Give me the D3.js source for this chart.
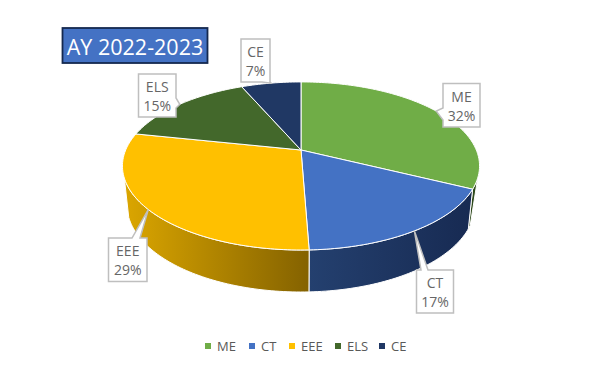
<!DOCTYPE html>
<html>
<head>
<meta charset="utf-8">
<script src="https://cdnjs.cloudflare.com/ajax/libs/d3/7.8.5/d3.min.js"></script>
<style>
  html, body { margin: 0; padding: 0; background: #fff; }
  svg { display: block; }
  text { font-family: "Open Sans", sans-serif; }
</style>
</head>
<body>
<div id="chart"></div>
<script>
var categories = ["ME", "CT", "EEE", "ELS", "CE"];
// labels show these rounded; decimals estimated from where the slice edges fall
var shares = [32.3, 17.1, 28.9, 15.2, 6.5];
var topColors = ["#70ad47", "#4472c4", "#ffc000", "#43682b", "#203864"];
var wallColors = [["#2f4a1c", "#2f4a1c"], ["#24406f", "#172a52"], ["#dba600", "#846200"], ["#2f4a1c", "#2f4a1c"], ["#172a52", "#172a52"]];

// where each callout box sits, and which side its pointer leaves from
var calloutBoxes = [
    { x: 443, y: 83.5, w: 37, h: 43.5, side: "left", a: 108, b: 120 },
    { x: 416.5, y: 270, w: 37, h: 43, side: "top", a: 421, b: 428 },
    { x: 108.5, y: 238, w: 38.5, h: 43.5, side: "top", a: 132, b: 140 },
    { x: 138.5, y: 74, w: 37.5, h: 43, side: "right", a: 98, b: 108 },
    { x: 241, y: 39, w: 29, h: 43, side: "bottom", a: 262, b: 270 }
];
var legendX = [205, 249, 289, 335, 379];

var width = 590, height = 371;
var cx = 301, cy = 150;
var k = 0.19, A = 81, B = 175.3;
var rad = Math.PI / 180;

var svg = d3.select("#chart").append("svg").attr("width", width).attr("height", height);
var defs = svg.append("defs");

// perspective view of the unit circle, angle clockwise from north
function project(angle, r) {
    var u = Math.sin(angle) * r, v = Math.cos(angle) * r;
    var w = 1 + k * v;
    return [cx + B * u / w, cy - A * v / w];
}
// lower rim sits a bit narrower than the top one
function projectBottom(angle) {
    var p = project(angle, 1);
    return [cx + (p[0] - cx) * 0.975, p[1] + 38 - 4 * Math.cos(angle)];
}
function samples(a0, a1) {
    var n = Math.max(2, Math.ceil((a1 - a0) / 0.02));
    return d3.range(n + 1).map(function (i) { return a0 + (a1 - a0) * i / n; });
}

var line = d3.line();
var pie = d3.pie().sort(null).value(function (d) { return d; });
var arcs = pie(shares);

// side wall only shows between these angles on the top rim and the lower rim
var wallStart = 109 * rad, wallEnd = 251 * rad;
var lowStart = 114 * rad, lowEnd = 252 * rad;

var walls = svg.append("g");
arcs.forEach(function (d, i) {
    var a0 = Math.max(d.startAngle, wallStart), a1 = Math.min(d.endAngle, wallEnd);
    if (a1 <= a0) return;
    var rim = samples(a0, a1);
    var low = rim.slice().reverse().map(function (a) {
        return projectBottom(Math.min(Math.max(a, lowStart), lowEnd));
    });
    var pts = rim.map(function (a) { return project(a, 1); }).concat(low);
    var xs = d3.extent(pts, function (p) { return p[0]; });

    // gradient runs left to right
    var grad = defs.append("linearGradient").attr("id", "wall" + i)
        .attr("gradientUnits", "userSpaceOnUse")
        .attr("x1", xs[0]).attr("x2", xs[1]).attr("y1", 0).attr("y2", 0);
    grad.append("stop").attr("offset", 0).attr("stop-color", wallColors[i][0]);
    grad.append("stop").attr("offset", 1).attr("stop-color", wallColors[i][1]);

    walls.append("path")
        .attr("d", line(pts) + "Z")
        .attr("fill", "url(#wall" + i + ")")
        .attr("stroke", "#fff")
        .attr("stroke-width", 1);
});

svg.append("g").selectAll("path").data(arcs).enter().append("path")
    .attr("d", function (d) {
        var pts = samples(d.startAngle, d.endAngle).map(function (a) { return project(a, 1); });
        return line([[cx, cy]].concat(pts)) + "Z";
    })
    .attr("fill", function (d, i) { return topColors[i]; })
    .attr("stroke", "#fff")
    .attr("stroke-width", 1)
    .attr("stroke-linejoin", "round");

function calloutPath(box, tip) {
    var x0 = box.x, x1 = box.x + box.w, y0 = box.y, y1 = box.y + box.h;
    var p = [[x0, y0]];
    if (box.side === "top") p.push([box.a, y0], tip, [box.b, y0]);
    p.push([x1, y0]);
    if (box.side === "right") p.push([x1, box.a], tip, [x1, box.b]);
    p.push([x1, y1]);
    if (box.side === "bottom") p.push([box.b, y1], tip, [box.a, y1]);
    p.push([x0, y1]);
    if (box.side === "left") p.push([x0, box.b], tip, [x0, box.a]);
    return line(p) + "Z";
}

var callouts = svg.append("g").selectAll("g").data(arcs).enter().append("g");
callouts.append("path")
    .attr("d", function (d, i) {
        return calloutPath(calloutBoxes[i], project((d.startAngle + d.endAngle) / 2, 1));
    })
    .attr("fill", "#fff")
    .attr("stroke", "#bfbfbf")
    .attr("stroke-width", 1.5);
callouts.append("text")
    .attr("x", function (d, i) { return calloutBoxes[i].x + calloutBoxes[i].w / 2; })
    .attr("y", function (d, i) { return calloutBoxes[i].y + 18; })
    .attr("text-anchor", "middle").attr("font-size", 14).attr("fill", "#666")
    .text(function (d, i) { return categories[i]; });
callouts.append("text")
    .attr("x", function (d, i) { return calloutBoxes[i].x + calloutBoxes[i].w / 2; })
    .attr("y", function (d, i) { return calloutBoxes[i].y + 37; })
    .attr("text-anchor", "middle").attr("font-size", 14).attr("fill", "#666")
    .text(function (d, i) { return Math.round(shares[i]) + "%"; });

// title badge
svg.append("rect")
    .attr("x", 62.5).attr("y", 28).attr("width", 145).attr("height", 35)
    .attr("fill", "#4472c4").attr("stroke", "#14284f").attr("stroke-width", 1.8);
svg.append("text")
    .attr("x", 135).attr("y", 55).attr("text-anchor", "middle")
    .attr("font-size", 21.5).attr("fill", "#fff")
    .text("AY 2022-2023");

var legend = svg.append("g").selectAll("g").data(categories).enter().append("g")
    .attr("transform", function (d, i) { return "translate(" + legendX[i] + ",343)"; });
legend.append("rect").attr("width", 6).attr("height", 6)
    .attr("fill", function (d, i) { return topColors[i]; });
legend.append("text")
    .attr("x", 12).attr("y", 8).attr("font-size", 13).attr("fill", "#595959")
    .text(function (d) { return d; });
</script>
</body>
</html>
